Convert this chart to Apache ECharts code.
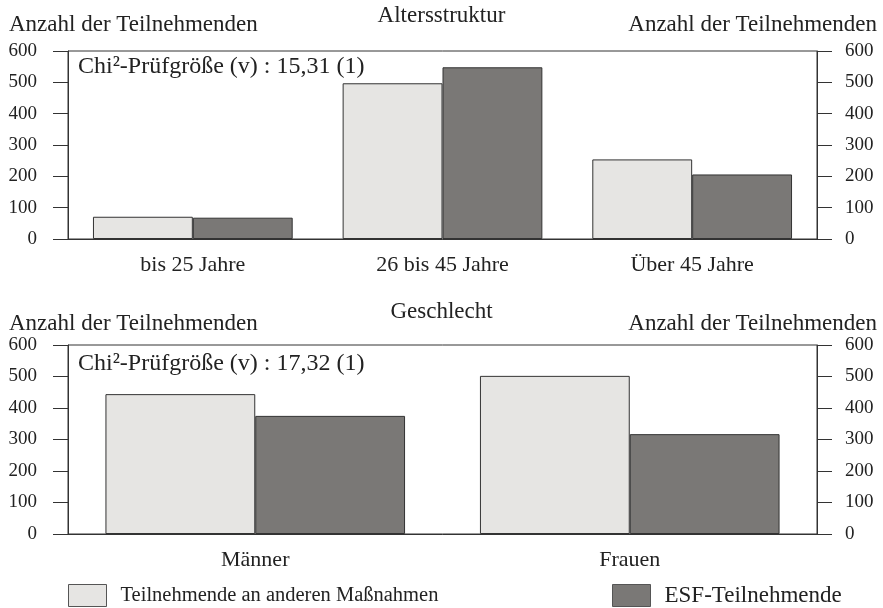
<!DOCTYPE html>
<html><head><meta charset="utf-8">
<script src="https://cdn.jsdelivr.net/npm/echarts@6/dist/echarts.min.js"></script>
<style>html,body{margin:0;padding:0;background:#fff}#c{width:883px;height:608px}</style>
</head><body><div id="c"></div>
<script>
const ageCategories = ['bis 25 Jahre', '26 bis 45 Jahre', 'Über 45 Jahre'];
const ageOther = [71, 497, 254];
const ageESF = [68, 548, 206];
const sexCategories = ['Männer', 'Frauen'];
const sexOther = [444, 502];
const sexESF = [375, 317];
const yTicks = [0, 100, 200, 300, 400, 500, 600];
const seriesNames = ['Teilnehmende an anderen Maßnahmen', 'ESF-Teilnehmende'];
const titles = ['Altersstruktur', 'Geschlecht'];
const axisName = 'Anzahl der Teilnehmenden';
const chiTexts = ['Chi²-Prüfgröße (v) : 15,31 (1)', 'Chi²-Prüfgröße (v) : 17,32 (1)'];

const FONT = 'Liberation Serif';
const LINE = '#333';
const TXT = '#222';
const chart = echarts.init(document.getElementById('c'));

const grids = [
  {left: 68, right: 66, top: 51, height: 188, show: true, borderColor: LINE, borderWidth: 1, backgroundColor: 'transparent'},
  {left: 68, right: 66, top: 345, height: 189, show: true, borderColor: LINE, borderWidth: 1, backgroundColor: 'transparent'}
];
const cats = [ageCategories, sexCategories];
const xAxes = cats.map((c, i) => ({
  type: 'category', gridIndex: i, data: c,
  axisLine: {lineStyle: {color: LINE}},
  axisTick: {length: 16, lineStyle: {color: LINE}},
  axisLabel: {color: TXT, fontFamily: FONT, fontSize: 22, margin: 15}
}));
const yAxes = [];
[0, 1].forEach(g => {
  ['left', 'right'].forEach(pos => {
    yAxes.push({
      type: 'value', gridIndex: g, position: pos, min: yTicks[0], max: yTicks[yTicks.length - 1], interval: 100,
      axisLine: {show: true, lineStyle: {color: LINE}},
      axisTick: {show: true, length: 15, lineStyle: {color: LINE}},
      splitLine: {show: false},
      axisLabel: {color: TXT, fontFamily: FONT, fontSize: 19, margin: pos === 'left' ? 31 : 28,
        align: pos === 'left' ? 'right' : 'left'}
    });
  });
});
const barStyle = (c) => ({color: c, borderColor: LINE, borderWidth: 1});
const series = [
  {name: seriesNames[0], type: 'bar', xAxisIndex: 0, yAxisIndex: 0, data: ageOther, itemStyle: barStyle('#e6e5e3'), barGap: '0%', barCategoryGap: '20%'},
  {name: seriesNames[1], type: 'bar', xAxisIndex: 0, yAxisIndex: 0, data: ageESF, itemStyle: barStyle('#7a7876'), barGap: '0%', barCategoryGap: '20%'},
  {name: seriesNames[0], type: 'bar', xAxisIndex: 1, yAxisIndex: 2, data: sexOther, itemStyle: barStyle('#e6e5e3'), barGap: '0%', barCategoryGap: '20%'},
  {name: seriesNames[1], type: 'bar', xAxisIndex: 1, yAxisIndex: 2, data: sexESF, itemStyle: barStyle('#7a7876'), barGap: '0%', barCategoryGap: '20%'}
];
const ts = (size) => ({fill: TXT, font: size + 'px "' + FONT + '"'});
const graphic = [];
[0, 1].forEach(g => {
  const yName = g === 0 ? 13 : 312;
  graphic.push({type: 'text', left: 9, top: yName, style: Object.assign({text: axisName}, ts(23))});
  graphic.push({type: 'text', right: 6, top: yName, style: Object.assign({text: axisName}, ts(23))});
  graphic.push({type: 'text', left: 78, top: g === 0 ? 55 : 352, style: Object.assign({text: chiTexts[g]}, ts(24))});
});
chart.setOption({
  animation: false,
  title: titles.map((t, i) => ({text: t, left: 'center', top: i === 0 ? 4 : 300, padding: 0,
    textStyle: {fontFamily: FONT, fontSize: 23, fontWeight: 'normal', color: TXT}})),
  legend: seriesNames.map((n, i) => ({data: [n], left: i === 0 ? 68 : 612, top: 584, padding: 0,
    itemWidth: 38, itemHeight: 22, icon: 'rect',
    itemStyle: {borderColor: '#555', borderWidth: 1},
    textStyle: {fontFamily: FONT, fontSize: i === 0 ? 20.5 : 23, color: TXT, padding: [0, 0, 0, 9]}})),
  grid: grids, xAxis: xAxes, yAxis: yAxes, series: series, graphic: graphic
});
</script></body></html>
